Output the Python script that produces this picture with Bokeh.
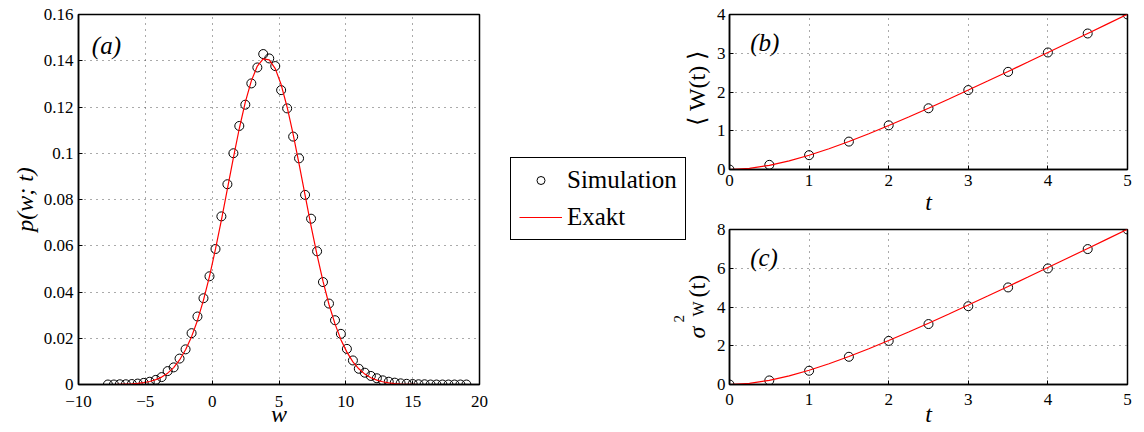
import math
from bokeh.plotting import figure
from bokeh.layouts import row, column
from bokeh.models import Range1d, FixedTicker, CustomJSTickFormatter, Label, Legend, LegendItem
from bokeh.embed import file_html
from bokeh.resources import INLINE

SERIF = "Liberation Serif"

# ---------------- data ----------------
# panel (a): histogram bin centres w, simulated density and exact density
w_grid = [-7.80, -7.35, -6.91, -6.46, -6.01, -5.57, -5.12, -4.67, -4.22, -3.78,
          -3.33, -2.88, -2.44, -1.99, -1.54, -1.10, -0.65, -0.20, 0.25, 0.69,
          1.14, 1.59, 2.03, 2.48, 2.93, 3.38, 3.82, 4.27, 4.72, 5.16,
          5.61, 6.06, 6.50, 6.95, 7.40, 7.85, 8.29, 8.74, 9.19, 9.63,
          10.08, 10.53, 10.97, 11.42, 11.87, 12.32, 12.76, 13.21, 13.66, 14.10,
          14.55, 15.00, 15.44, 15.89, 16.34, 16.78, 17.23, 17.68, 18.13, 18.57, 19.02]
p_sim = [0.0000, 0.0000, 0.0001, 0.0001, 0.0002, 0.0004, 0.0007, 0.0012, 0.0020, 0.0032,
         0.0058, 0.0074, 0.0112, 0.0152, 0.0222, 0.0294, 0.0373, 0.0468, 0.0586, 0.0727,
         0.0866, 0.1000, 0.1118, 0.1210, 0.1302, 0.1371, 0.1429, 0.1410, 0.1377, 0.1273,
         0.1194, 0.1072, 0.0978, 0.0820, 0.0717, 0.0576, 0.0443, 0.0350, 0.0278, 0.0219,
         0.0154, 0.0104, 0.0068, 0.0051, 0.0037, 0.0027, 0.0018, 0.0012, 0.0008, 0.0005,
         0.0003, 0.0002, 0.0001, 0.0001, 0.0000, 0.0000, 0.0000, 0.0000, 0.0000, 0.0000, 0.0000]
p_exact = [0.0000, 0.0000, 0.0001, 0.0002, 0.0003, 0.0005, 0.0008, 0.0013, 0.0021, 0.0032,
           0.0049, 0.0073, 0.0106, 0.0150, 0.0207, 0.0277, 0.0365, 0.0468, 0.0586, 0.0711,
           0.0846, 0.0981, 0.1107, 0.1221, 0.1313, 0.1377, 0.1408, 0.1404, 0.1366, 0.1297,
           0.1199, 0.1082, 0.0954, 0.0819, 0.0685, 0.0559, 0.0447, 0.0346, 0.0262, 0.0194,
           0.0140, 0.0098, 0.0068, 0.0045, 0.0029, 0.0019, 0.0012, 0.0007, 0.0004, 0.0002,
           0.0001, 0.0001, 0.0000, 0.0000, 0.0000, 0.0000, 0.0000, 0.0000, 0.0000, 0.0000, 0.0000]

# panels (b), (c): simulated mean / variance at sample times, exact curves
t_sim = [0.0, 0.5, 1.0, 1.5, 2.0, 2.5, 3.0, 3.5, 4.0, 4.5, 5.0]
mean_sim = [0.00, 0.12, 0.37, 0.72, 1.14, 1.58, 2.05, 2.52, 3.02, 3.51, 4.00]
var_sim = [0.00, 0.21, 0.71, 1.43, 2.25, 3.12, 4.04, 5.01, 5.99, 6.99, 8.00]

t_exact = [0.0, 0.25, 0.5, 0.75, 1.0, 1.25, 1.5, 1.75, 2.0, 2.25, 2.5,
           2.75, 3.0, 3.25, 3.5, 3.75, 4.0, 4.25, 4.5, 4.75, 5.0]
mean_exact = [0.0, 0.0288, 0.1065, 0.2224, 0.3679, 0.5365, 0.7231, 0.9238, 1.1353, 1.3554, 1.5821,
              1.8139, 2.0498, 2.2888, 2.5302, 2.7735, 3.0183, 3.2643, 3.5111, 3.7587, 4.0067]
var_exact = [0.0, 0.0576, 0.2131, 0.4447, 0.7358, 1.0730, 1.4463, 1.8476, 2.2707, 2.7108, 3.1642,
             3.6278, 4.0996, 4.5776, 5.0604, 5.5470, 6.0366, 6.5286, 7.0222, 7.5174, 8.0135]

xticks_a = [-10, -5, 0, 5, 10, 15, 20]
yticks_a = [0, 0.02, 0.04, 0.06, 0.08, 0.1, 0.12, 0.14, 0.16]
xticks_bc = [0, 1, 2, 3, 4, 5]
yticks_b = [0, 1, 2, 3, 4]
yticks_c = [0, 2, 4, 6, 8]

legend_labels = ["Simulation", "Exakt"]

FMT_CODE = """
const s = (Math.round(tick * 100) / 100).toString();
return s.replace('-', '\u2212');
"""


def make_fig(width, height, xr, yr, xt, yt, left, right, top, bottom, xstand, ystand=5):
    p = figure(width=width, height=height, x_range=Range1d(*xr), y_range=Range1d(*yr),
               output_backend="svg", toolbar_location=None,
               min_border_left=left, min_border_right=right,
               min_border_top=top, min_border_bottom=bottom)
    p.background_fill_color = "white"
    p.border_fill_color = "white"
    p.outline_line_color = "black"
    p.outline_line_width = 1.5
    p.xaxis[0].ticker = FixedTicker(ticks=xt)
    p.yaxis[0].ticker = FixedTicker(ticks=yt)
    p.xgrid[0].ticker = FixedTicker(ticks=xt)
    p.ygrid[0].ticker = FixedTicker(ticks=yt)
    for ax in (p.xaxis[0], p.yaxis[0]):
        ax.axis_line_width = 1.5
        ax.axis_line_color = "black"
        ax.major_tick_in = 4
        ax.major_tick_out = 0
        ax.major_tick_line_color = "black"
        ax.minor_tick_in = 0
        ax.minor_tick_out = 0
        ax.major_label_text_font = SERIF
        ax.major_label_text_font_size = "17px"
        ax.major_label_text_color = "black"
        ax.axis_label_text_font = SERIF
        ax.axis_label_text_font_size = "24px"
        ax.axis_label_text_font_style = "italic"
        ax.axis_label_text_color = "black"
        ax.formatter = CustomJSTickFormatter(code=FMT_CODE)
    p.xaxis[0].major_label_standoff = xstand
    p.yaxis[0].major_label_standoff = ystand
    for g in (p.xgrid[0], p.ygrid[0]):
        g.grid_line_color = "#555555"
        g.grid_line_dash = "1 5"
        g.grid_line_width = 1
    return p


def lab(p, text, x, y, size="24px", style="italic", angle=0.0, align="center",
        baseline="alphabetic", units="data"):
    p.add_layout(Label(x=x, y=y, x_units=units, y_units=units, text=text, angle=angle,
                       text_align=align, text_baseline=baseline, text_font=SERIF,
                       text_font_size=size, text_font_style=style, text_color="black"))


MS = 9  # marker size
SIM_STYLE = dict(marker="circle", size=MS, fill_color=None, line_color="black", line_width=1)
EX_STYLE = dict(line_color="#ff0000", line_width=1.2)

# ---------------- panel (a) ----------------
pa = make_fig(490, 432, (-10, 20), (0, 0.16), xticks_a, yticks_a, 78, 11, 14, 48, 11)
pa.scatter(w_grid, p_sim, **SIM_STYLE)
pa.line(w_grid, p_exact, **EX_STYLE)
lab(pa, "(a)", -9.0, 0.1465, size="25px", align="left")
pa.xaxis[0].axis_label = "w"
pa.xaxis[0].axis_label_standoff = -9
pa.yaxis[0].axis_label = "p(w; t)"
pa.yaxis[0].axis_label_standoff = 3

# ---------------- middle strip: legend and y labels of (b), (c) ----------------
# frame borders match the row (top 14, bottom 48) so data units equal page pixels
MID_W = 223
pm = figure(width=MID_W, height=432, x_range=Range1d(0, MID_W), y_range=Range1d(48, 418),
            output_backend="svg", toolbar_location=None, x_axis_type=None, y_axis_type=None,
            min_border_left=0, min_border_right=0, min_border_top=14, min_border_bottom=48)
pm.outline_line_color = None
pm.background_fill_color = "white"
pm.border_fill_color = "white"
pm.xgrid.visible = False
pm.ygrid.visible = False
pm.extra_x_ranges = {"off": Range1d(1000, 1001)}
pm.extra_y_ranges = {"off": Range1d(1000, 1001)}
leg_sim = pm.scatter(w_grid, p_sim, x_range_name="off", y_range_name="off", **SIM_STYLE)
leg_ex = pm.line(w_grid, p_exact, x_range_name="off", y_range_name="off", **EX_STYLE)
legend = Legend(items=[LegendItem(label=legend_labels[0], renderers=[leg_sim]),
                       LegendItem(label=legend_labels[1], renderers=[leg_ex])],
                location=(20, 144), label_text_font=SERIF, label_text_font_size="25px",
                label_text_color="black",
                glyph_width=43, glyph_height=20, label_standoff=5, padding=8, spacing=9,
                margin=0, border_line_color="black", border_line_width=1.2,
                border_line_alpha=1.0, background_fill_color="white",
                background_fill_alpha=1.0)
pm.add_layout(legend)
# y label of (b)
lab(pm, "\u27e8 W(t) \u27e9", 206, 344.5, style="normal", angle=math.pi / 2)
# y label of (c): sigma^2_W(t)
lab(pm, "\u03c3", 206, 94, align="left", angle=math.pi / 2)
lab(pm, "2", 188, 110, size="15px", style="normal", align="left", angle=math.pi / 2)
lab(pm, "W", 208, 116, size="16px", style="normal", align="left", angle=math.pi / 2)
lab(pm, "(t)", 206, 135, style="normal", align="left", angle=math.pi / 2)

# ---------------- panel (b) ----------------
RW = 1144 - 490 - MID_W
pb = make_fig(RW, 220, (0, 5), (0, 4), xticks_bc, yticks_b, 13, 17, 14, 51, 5, 4)
pb.scatter(t_sim, mean_sim, **SIM_STYLE)
pb.line(t_exact, mean_exact, **EX_STYLE)
lab(pb, "(b)", 0.26, 3.28, size="25px", align="left")
pb.xaxis[0].axis_label = "t"
pb.xaxis[0].axis_label_standoff = 0

# ---------------- panel (c) ----------------
pc = make_fig(RW, 212, (0, 5), (0, 8), xticks_bc, yticks_c, 13, 17, 9, 48, 9, 4)
pc.scatter(t_sim, var_sim, **SIM_STYLE)
pc.line(t_exact, var_exact, **EX_STYLE)
lab(pc, "(c)", 0.26, 6.55, size="25px", align="left")
pc.xaxis[0].axis_label = "t"
pc.xaxis[0].axis_label_standoff = -7

layout = row(pa, pm, column(pb, pc, spacing=0), spacing=0)
open("out.html", "w").write(file_html(layout, INLINE))
